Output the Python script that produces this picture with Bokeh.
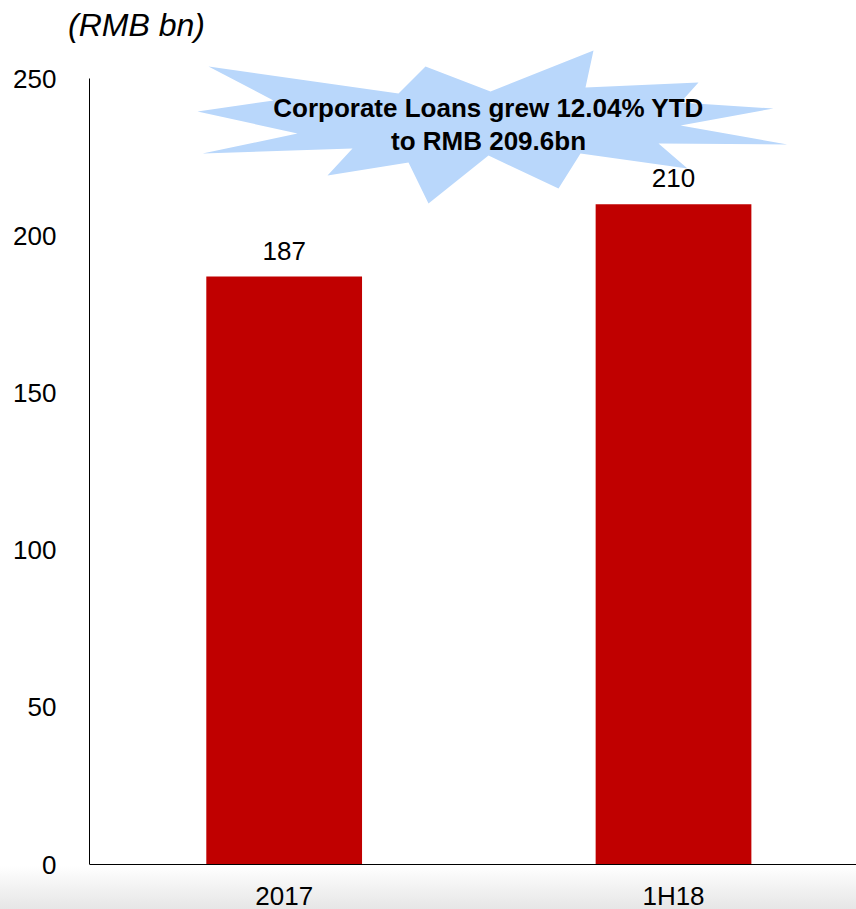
from bokeh.plotting import figure
from bokeh.models import Range1d, FixedTicker, Div
from bokeh.layouts import column
from bokeh.core.properties import value
from bokeh.embed import file_html
from bokeh.resources import INLINE

# ---- data ----
categories = ["2017", "1H18"]
loans = [187, 210]
value_labels = ["187", "210"]
y_ticks = [0, 50, 100, 150, 200, 250]
unit_label = "(RMB bn)"
callout_lines = ["Corporate Loans grew 12.04% YTD", "to RMB 209.6bn"]

FONT = "Liberation Sans"
W, H = 856, 909
HEAD = 45            # height of the header strip holding the unit label
LEFT = 89            # page x of the y axis
ZERO_PX = 864        # page y of value 0
PX_PER_UNIT = 786 / 250.0
Y_END = (ZERO_PX - HEAD) / PX_PER_UNIT
Y_START = -(H - ZERO_PX) / PX_PER_UNIT
X_END = 1.97

xs = [i + 0.5 for i in range(len(categories))]

header = Div(text=f'<div style="position:absolute;left:68px;top:7px;'
                  f'font-family:\'{FONT}\';font-style:italic;font-size:32px;'
                  f'line-height:36px;color:#000;white-space:nowrap;">{unit_label}</div>',
             width=W, height=HEAD, margin=0)

p = figure(width=W, height=H - HEAD, output_backend="svg", toolbar_location=None,
           x_range=Range1d(0, X_END), y_range=Range1d(Y_START, Y_END),
           min_border_left=LEFT, min_border_right=0,
           min_border_top=0, min_border_bottom=0, margin=0)
p.styles = {"background": "linear-gradient(to bottom, #ffffff 0%, #ffffff 95%, #e6e6e6 100%)"}
p.border_fill_alpha = 0
p.background_fill_alpha = 0
p.outline_line_color = None
p.xgrid.visible = False
p.ygrid.visible = False

frame_w = W - LEFT

def dx(px):
    return (px - LEFT) / frame_w * X_END

def dy(py):
    return (ZERO_PX - py) / PX_PER_UNIT

# starburst callout (decoration, page-pixel outline converted to data space)
burst_px = [(208, 66), (398, 93), (425, 66), (490, 91), (593, 50), (585, 87),
            (698, 82), (680, 102), (773, 108), (680, 125), (787, 144), (658, 143),
            (687, 168), (580, 153), (558, 188), (488, 155), (428, 203), (408, 162),
            (327, 175), (352, 148), (202, 153), (297, 133), (197, 111), (273, 100)]
p.patch([dx(a) for a, b in burst_px], [dy(b) for a, b in burst_px],
        fill_color="#B9D7FB", line_color=None)
p.text(x=[dx(488), dx(488)], y=[dy(107), dy(140)], text=callout_lines,
       text_font=value(FONT), text_font_style="bold", text_font_size="26px",
       text_align="center", text_baseline="middle", text_color="#000000")

# bars
p.vbar(x=xs, bottom=0, top=loans, width=0.4, fill_color="#C00000", line_color=None)
p.text(x=xs, y=loans, text=value_labels, text_font=value(FONT),
       text_font_size="26px", text_align="center", text_baseline="bottom",
       y_offset=-17, text_color="#000000")

# axes
p.yaxis.ticker = FixedTicker(ticks=y_ticks)
p.yaxis.bounds = (0, 250)
p.yaxis.major_tick_line_color = None
p.yaxis.minor_tick_line_color = None
p.yaxis.major_label_standoff = 27
p.yaxis.axis_line_color = "#000000"
p.yaxis.major_label_text_font = FONT
p.yaxis.major_label_text_font_size = "26px"
p.yaxis.major_label_text_color = "#000000"

p.xaxis.fixed_location = 0
p.xaxis.ticker = FixedTicker(ticks=xs)
p.xaxis.major_label_overrides = {x: c for x, c in zip(xs, categories)}
p.xaxis.major_tick_line_color = None
p.xaxis.minor_tick_line_color = None
p.xaxis.major_label_standoff = 10
p.xaxis.axis_line_color = "#000000"
p.xaxis.major_label_text_font = FONT
p.xaxis.major_label_text_font_size = "26px"
p.xaxis.major_label_text_color = "#000000"

layout = column(header, p, spacing=0, margin=0)
open("out.html", "w").write(file_html(layout, INLINE))
